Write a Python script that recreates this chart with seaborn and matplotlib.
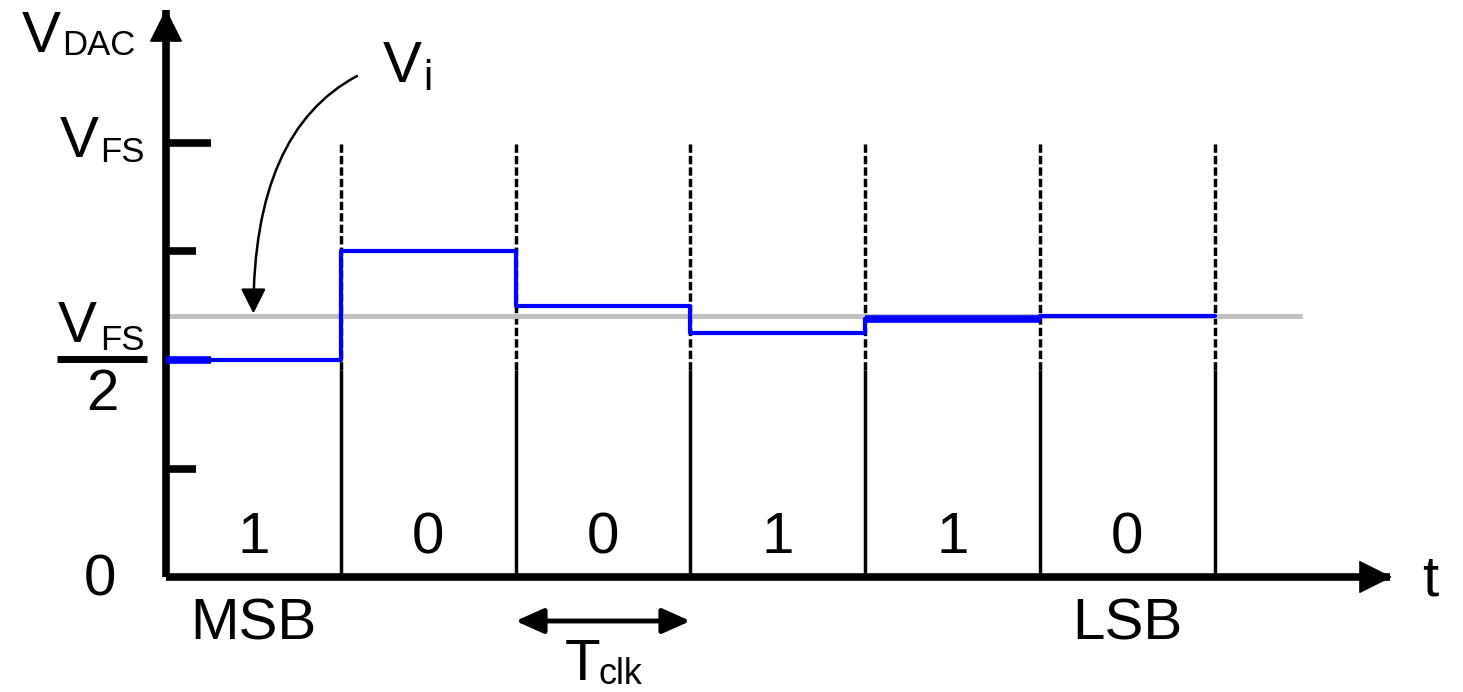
import numpy as np
import seaborn as sns
import matplotlib.pyplot as plt

# SAR conversion data (voltages as fraction of V_FS, time in clock periods)
bits = ['1', '0', '0', '1', '1', '0']
t_edges = [0, 1, 2, 3, 4, 5, 6]
v_dac = [0.5, 0.75, 0.625, 0.5625, 0.594, 0.602]
v_in = 0.602
tick_levels = [0.25, 0.5, 0.75, 1.0]
tick_labels_len = [0.17, 0.26, 0.17, 0.26]

sns.set_theme(style='white')
plt.rcParams['font.family'] = ['Liberation Sans', 'DejaVu Sans']
plt.rcParams['text.color'] = 'black'

# pixel -> data helpers (axes fill the whole figure)
X0, PT, Y0, PV = 166, 174.8, 577, 434


def px(x):
    return (x - X0) / PT


def py(y):
    return (Y0 - y) / PV


fig = plt.figure(figsize=(14.63, 6.92), dpi=100)
ax = fig.add_axes([0, 0, 1, 1])
ax.set_xlim(px(0), px(1463))
ax.set_ylim(py(692), py(0))
ax.axis('off')

# input voltage reference line
ax.hlines(v_in, 0, 6.5, color='#c0c0c0', lw=3.6, zorder=2)

# clock boundaries: dashed above, solid below
split = 0.477
ax.vlines(t_edges[1:], split, 1.0, color='black', lw=2.5,
          linestyles=(0, (2.4, 0.9)), zorder=1)
ax.vlines(t_edges[1:], 0, split, color='black', lw=2.5, zorder=1)

# axes with arrow heads
ax.plot([0, 7.0], [0, 0], color='black', lw=5.5, solid_capstyle='butt',
        zorder=4)
ax.plot([0, 0], [0, 1.306], color='black', lw=5.5, solid_capstyle='butt',
        zorder=4)
head = dict(arrowstyle='-|>,head_length=1.1,head_width=0.55',
            mutation_scale=20, lw=1, color='black', shrinkA=0, shrinkB=0)
ax.annotate('', xy=(px(1392), 0), xytext=(px(1340), 0),
            arrowprops=head, zorder=5)
ax.annotate('', xy=(0, py(9)), xytext=(0, py(60)),
            arrowprops=head, zorder=5)

# y ticks
for lv, ln in zip(tick_levels, tick_labels_len):
    col = 'blue' if lv == 0.5 else 'black'
    ax.plot([0, ln], [lv, lv], color=col, lw=5.5, solid_capstyle='butt',
            zorder=4)

# DAC staircase
sns.lineplot(x=t_edges, y=v_dac + [v_dac[-1]], drawstyle='steps-post',
             color='blue', lw=3, ax=ax, zorder=3)
ax.hlines(v_dac[4], t_edges[4], t_edges[5], color='blue', lw=5.5, zorder=3)

big = 42
small = 25
# bit values
for i, b in enumerate(bits):
    ax.text(i + 0.5, py(553), b, ha='center', va='baseline', fontsize=big)
ax.text(0.5, py(640), 'MSB', ha='center', va='baseline', fontsize=big)
ax.text(5.5, py(640), 'LSB', ha='center', va='baseline', fontsize=big)
ax.text(px(1430), py(595), 't', ha='center', va='baseline', fontsize=big)
ax.text(px(100), py(595), '0', ha='center', va='baseline', fontsize=big)

# y labels
ax.text(px(22), py(52), 'V', ha='left', va='baseline', fontsize=big)
ax.text(px(62), py(55), 'DAC', ha='left', va='baseline', fontsize=small)
ax.text(px(60), py(157), 'V', ha='left', va='baseline', fontsize=big)
ax.text(px(100), py(162), 'FS', ha='left', va='baseline', fontsize=small)
ax.text(px(58), py(342), 'V', ha='left', va='baseline', fontsize=big)
ax.text(px(100), py(350), 'FS', ha='left', va='baseline', fontsize=small)
ax.plot([px(57), px(147)], [py(359), py(359)], color='black', lw=5,
        solid_capstyle='butt')
ax.text(px(102), py(410), '2', ha='center', va='baseline', fontsize=big)

# V_i label and curved arrow
ax.text(px(383), py(82), 'V', ha='left', va='baseline', fontsize=big)
ax.text(px(423), py(90), 'i', ha='left', va='baseline', fontsize=30)
ax.annotate('', xy=(0.5, v_in + 0.005), xytext=(px(357), py(76)),
            arrowprops=dict(arrowstyle='-|>', mutation_scale=38, lw=1.8,
                            color='black', shrinkA=0, shrinkB=0,
                            connectionstyle='angle3,angleA=28,angleB=90'))

# clock period
ax.annotate('', xy=(2, py(621)), xytext=(3, py(621)),
            arrowprops=dict(arrowstyle='<|-|>,head_length=0.85,head_width=0.38',
                            mutation_scale=20, lw=3.5, color='black',
                            shrinkA=0, shrinkB=0))
ax.text(px(565), py(680), 'T', ha='left', va='baseline', fontsize=big)
ax.text(px(598), py(684), 'clk', ha='left', va='baseline', fontsize=26)

fig.savefig('out.png', dpi=100)
